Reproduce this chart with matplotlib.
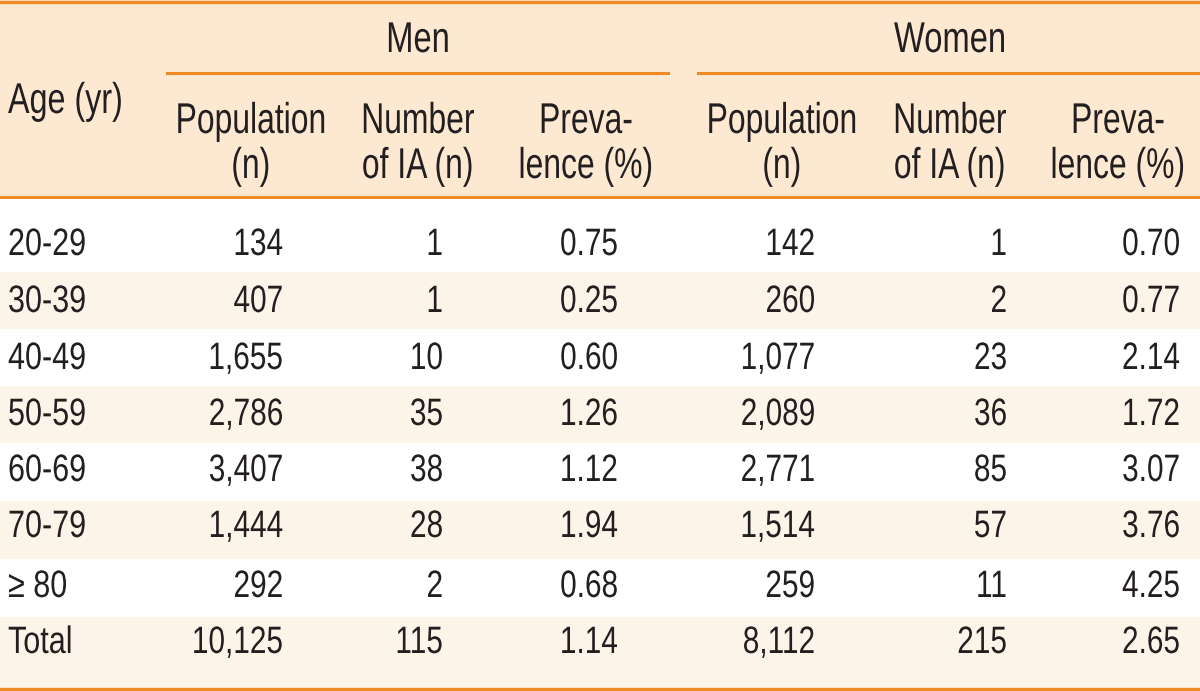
import matplotlib.pyplot as plt
from matplotlib.patches import Rectangle
from matplotlib.patheffects import AbstractPathEffect
from matplotlib.transforms import Affine2D

# Dados da tabela
idades = ["20-29", "30-39", "40-49", "50-59", "60-69", "70-79", "\u2265 80", "Total"]
homens_pop = ["134", "407", "1,655", "2,786", "3,407", "1,444", "292", "10,125"]
homens_ia = ["1", "1", "10", "35", "38", "28", "2", "115"]
homens_prev = ["0.75", "0.25", "0.60", "1.26", "1.12", "1.94", "0.68", "1.14"]
mulheres_pop = ["142", "260", "1,077", "2,089", "2,771", "1,514", "259", "8,112"]
mulheres_ia = ["1", "2", "23", "36", "85", "57", "11", "215"]
mulheres_prev = ["0.70", "0.77", "2.14", "1.72", "3.07", "3.76", "4.25", "2.65"]

grupos = ["Men", "Women"]
sub_cab = ["Population\n(n)", "Number\nof IA (n)", "Preva-\nlence (%)"]

plt.rcParams['font.family'] = ['Liberation Sans', 'DejaVu Sans']

laranja = '#EE8B24'
fundo_cab = '#FDE8D2'
fundo_claro = '#FDF4E9'
texto = '#231F20'
fs_cab = 31
fs_corpo = 27.5

fig = plt.figure(figsize=(12, 6.91), dpi=100)
ax = fig.add_axes([0, 0, 1, 1])
ax.set_xlim(0, 1200)
ax.set_ylim(691, 0)
ax.axis('off')


# A fonte original é condensada: desenha o texto menor e estica na vertical
class Estica(AbstractPathEffect):
    def __init__(self, y0, sy):
        super().__init__()
        self.y0 = y0
        self.sy = sy

    def draw_path(self, renderer, gc, tpath, affine, rgbFace=None):
        yd = ax.transData.transform((0, self.y0))[1]
        alto = affine + Affine2D().translate(0, -yd).scale(1, self.sy).translate(0, yd)
        renderer.draw_path(gc, tpath, alto, rgbFace)


def escreve(x, y, s, ha, fs, sx):
    ax.text(x, y, s, fontsize=fs * sx, color=texto, ha=ha, va='baseline',
            path_effects=[Estica(y, 1 / sx)])


# Fundo do cabeçalho
ax.add_patch(Rectangle((0, 0), 1200, 197, color=fundo_cab, lw=0, zorder=0))

# Faixas das linhas (alternadas)
bordas = [197, 272, 329, 386, 443, 501, 559, 617, 689]
for i in range(len(idades)):
    if i % 2 == 1:
        ax.add_patch(Rectangle((0, bordas[i]), 1200, bordas[i + 1] - bordas[i],
                               color=fundo_claro, lw=0, zorder=0))

# Linhas laranja
ax.plot([0, 1200], [2, 2], color=laranja, lw=2.4)
ax.plot([167, 668], [73, 73], color=laranja, lw=2.2)
ax.plot([698, 1200], [73, 73], color=laranja, lw=2.2)
ax.plot([0, 1200], [197, 197], color=laranja, lw=2.2)
ax.plot([0, 1200], [689, 689], color=laranja, lw=2.4)

# Cabeçalho
escreve(8, 113, "Age (yr)", 'left', fs_cab, 0.75)
escreve(418, 52, grupos[0], 'center', fs_cab, 0.76)
escreve(950, 52, grupos[1], 'center', fs_cab, 0.76)

centros_cab = [251, 418, 586, 782, 950, 1118]
for j, cx in enumerate(centros_cab):
    l1, l2 = sub_cab[j % 3].split("\n")
    escreve(cx, 133, l1, 'center', fs_cab, 0.74)
    escreve(cx, 178, l2, 'center', fs_cab, 0.74)

# Corpo da tabela
colunas = [homens_pop, homens_ia, homens_prev, mulheres_pop, mulheres_ia, mulheres_prev]
x_dir = [283, 443, 618, 815, 1007, 1180]
base_y = [255, 312, 369, 425, 481, 537, 597, 653]
for i, idade in enumerate(idades):
    y = base_y[i]
    escreve(8, y, idade, 'left', fs_corpo, 0.8)
    for col, x in zip(colunas, x_dir):
        escreve(x, y, col[i], 'right', fs_corpo, 0.78)

fig.savefig('out.png', dpi=100)
